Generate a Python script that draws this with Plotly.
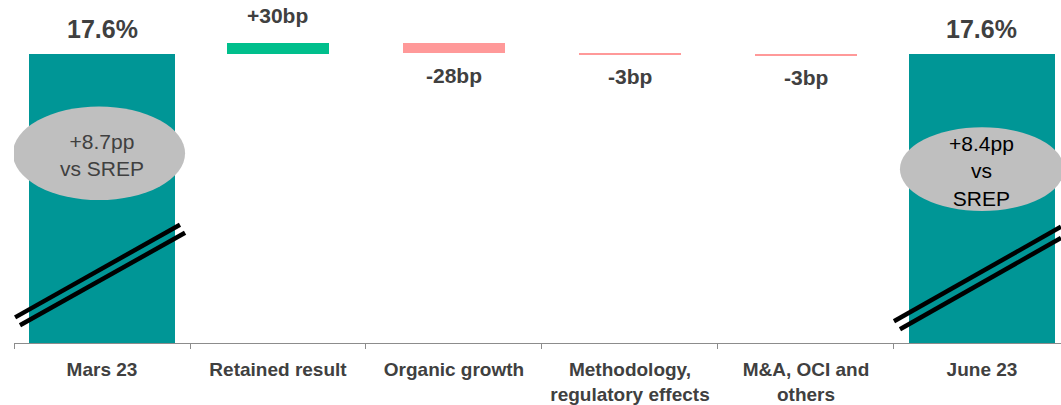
import plotly.graph_objects as go

# ---- data ----
categories = ["Mars 23", "Retained result", "Organic growth",
              "Methodology,<br>regulatory effects", "M&A, OCI and<br>others", "June 23"]
values = [17.6, 0.30, -0.28, -0.03, -0.03, 17.6]
measures = ["total", "relative", "relative", "relative", "relative", "total"]
value_labels = ["17.6%", "+30bp", "-28bp", "-3bp", "-3bp", "17.6%"]
srep_labels = ["+8.7pp<br>vs SREP", "+8.4pp<br>vs<br>SREP"]

# ---- styling ----
TEAL = "#009696"
GREEN = "#00BF8C"
PINK = "#FF9999"
TEXT = "#404040"
FONT = "Liberation Sans"

bases, heights, colors, widths = [], [], [], []
running = 0.0
for v, m in zip(values, measures):
    if m == "total":
        bases.append(0.0)
        heights.append(v)
        colors.append(TEAL)
        widths.append(0.83)
        running = v
    else:
        bases.append(running)
        heights.append(v)
        colors.append(GREEN if v >= 0 else PINK)
        widths.append(0.575)
        running += v

x_idx = list(range(len(categories)))

fig = go.Figure()
fig.add_trace(go.Bar(
    x=x_idx, y=heights, base=bases, width=widths,
    marker=dict(color=colors, line=dict(width=0)),
    hoverinfo="skip", showlegend=False,
))

annotations = []
for i, (b, h, m, lab) in enumerate(zip(bases, heights, measures, value_labels)):
    if m == "total":
        size, shift = 25, 25
    elif h >= 0:
        size, shift = 21, 28
    else:
        size, shift = 21, -22
    annotations.append(dict(x=i, y=b + h, xref="x", yref="y", text="<b>%s</b>" % lab,
                            showarrow=False, yanchor="middle", yshift=shift,
                            font=dict(size=size, color=TEXT, family=FONT)))

# SREP bubbles on the two total bars
total_idx = [i for i, m in enumerate(measures) if m == "total"]
shapes = []
bubble_specs = [
    dict(x0=-0.506, x1=0.472, y0=0.4265, y1=0.706, ty=0.560, color=TEXT),
    dict(x0=-0.466, x1=0.466, y0=0.394, y1=0.644, ty=0.512, color="#000000"),
]
for k, i in enumerate(total_idx):
    s = bubble_specs[k]
    shapes.append(dict(type="circle", xref="x", yref="paper",
                       x0=i + s["x0"], x1=i + s["x1"], y0=s["y0"], y1=s["y1"],
                       fillcolor="#BFBFBF", line=dict(width=0), layer="above"))
    annotations.append(dict(x=i, y=s["ty"], xref="x", yref="paper", text=srep_labels[k],
                            showarrow=False, yanchor="middle", xanchor="center",
                            font=dict(size=21, color=s["color"], family=FONT)))

# axis-break marks (double diagonal lines)
break_specs = [
    [(-0.494, 0.0765, 0.443, 0.353), (-0.466, 0.0529, 0.472, 0.329)],
    [(-0.50, 0.0647, 0.449, 0.347), (-0.466, 0.0412, 0.449, 0.3135)],
]
for k, i in enumerate(total_idx):
    for (xa, ya, xb, yb) in break_specs[k]:
        shapes.append(dict(type="line", xref="x", yref="paper",
                           x0=i + xa, y0=ya, x1=i + xb, y1=yb,
                           line=dict(color="#000000", width=4.5), layer="above"))

fig.update_layout(
    width=1061, height=405,
    margin=dict(l=14, r=0, t=8, b=57),
    paper_bgcolor="white", plot_bgcolor="white",
    font=dict(family=FONT, color=TEXT),
    bargap=0, hovermode=False,
    shapes=shapes, annotations=annotations,
)
fig.update_xaxes(
    type="linear", range=[-0.5, 5.449],
    tickmode="array", tickvals=x_idx, ticktext=categories,
    ticks="", showline=True, linecolor="#8C8C8C", linewidth=1,
    showgrid=False, zeroline=False, ticklabelstandoff=9,
    tickfont=dict(size=19, color=TEXT, family=FONT, weight="bold"),
    minor=dict(tickmode="array", tickvals=[i - 0.5 for i in x_idx],
               ticks="outside", ticklen=5, tickcolor="#8C8C8C", tickwidth=1, showgrid=False),
)
fig.update_yaxes(range=[9.214, 18.929], visible=False, showgrid=False, zeroline=False)

fig.write_html("out.html", config={"displayModeBar": False},
               post_script="document.body.style.margin='0';"
                           "document.documentElement.style.overflow='hidden';"
                           "document.body.style.overflow='hidden';")
